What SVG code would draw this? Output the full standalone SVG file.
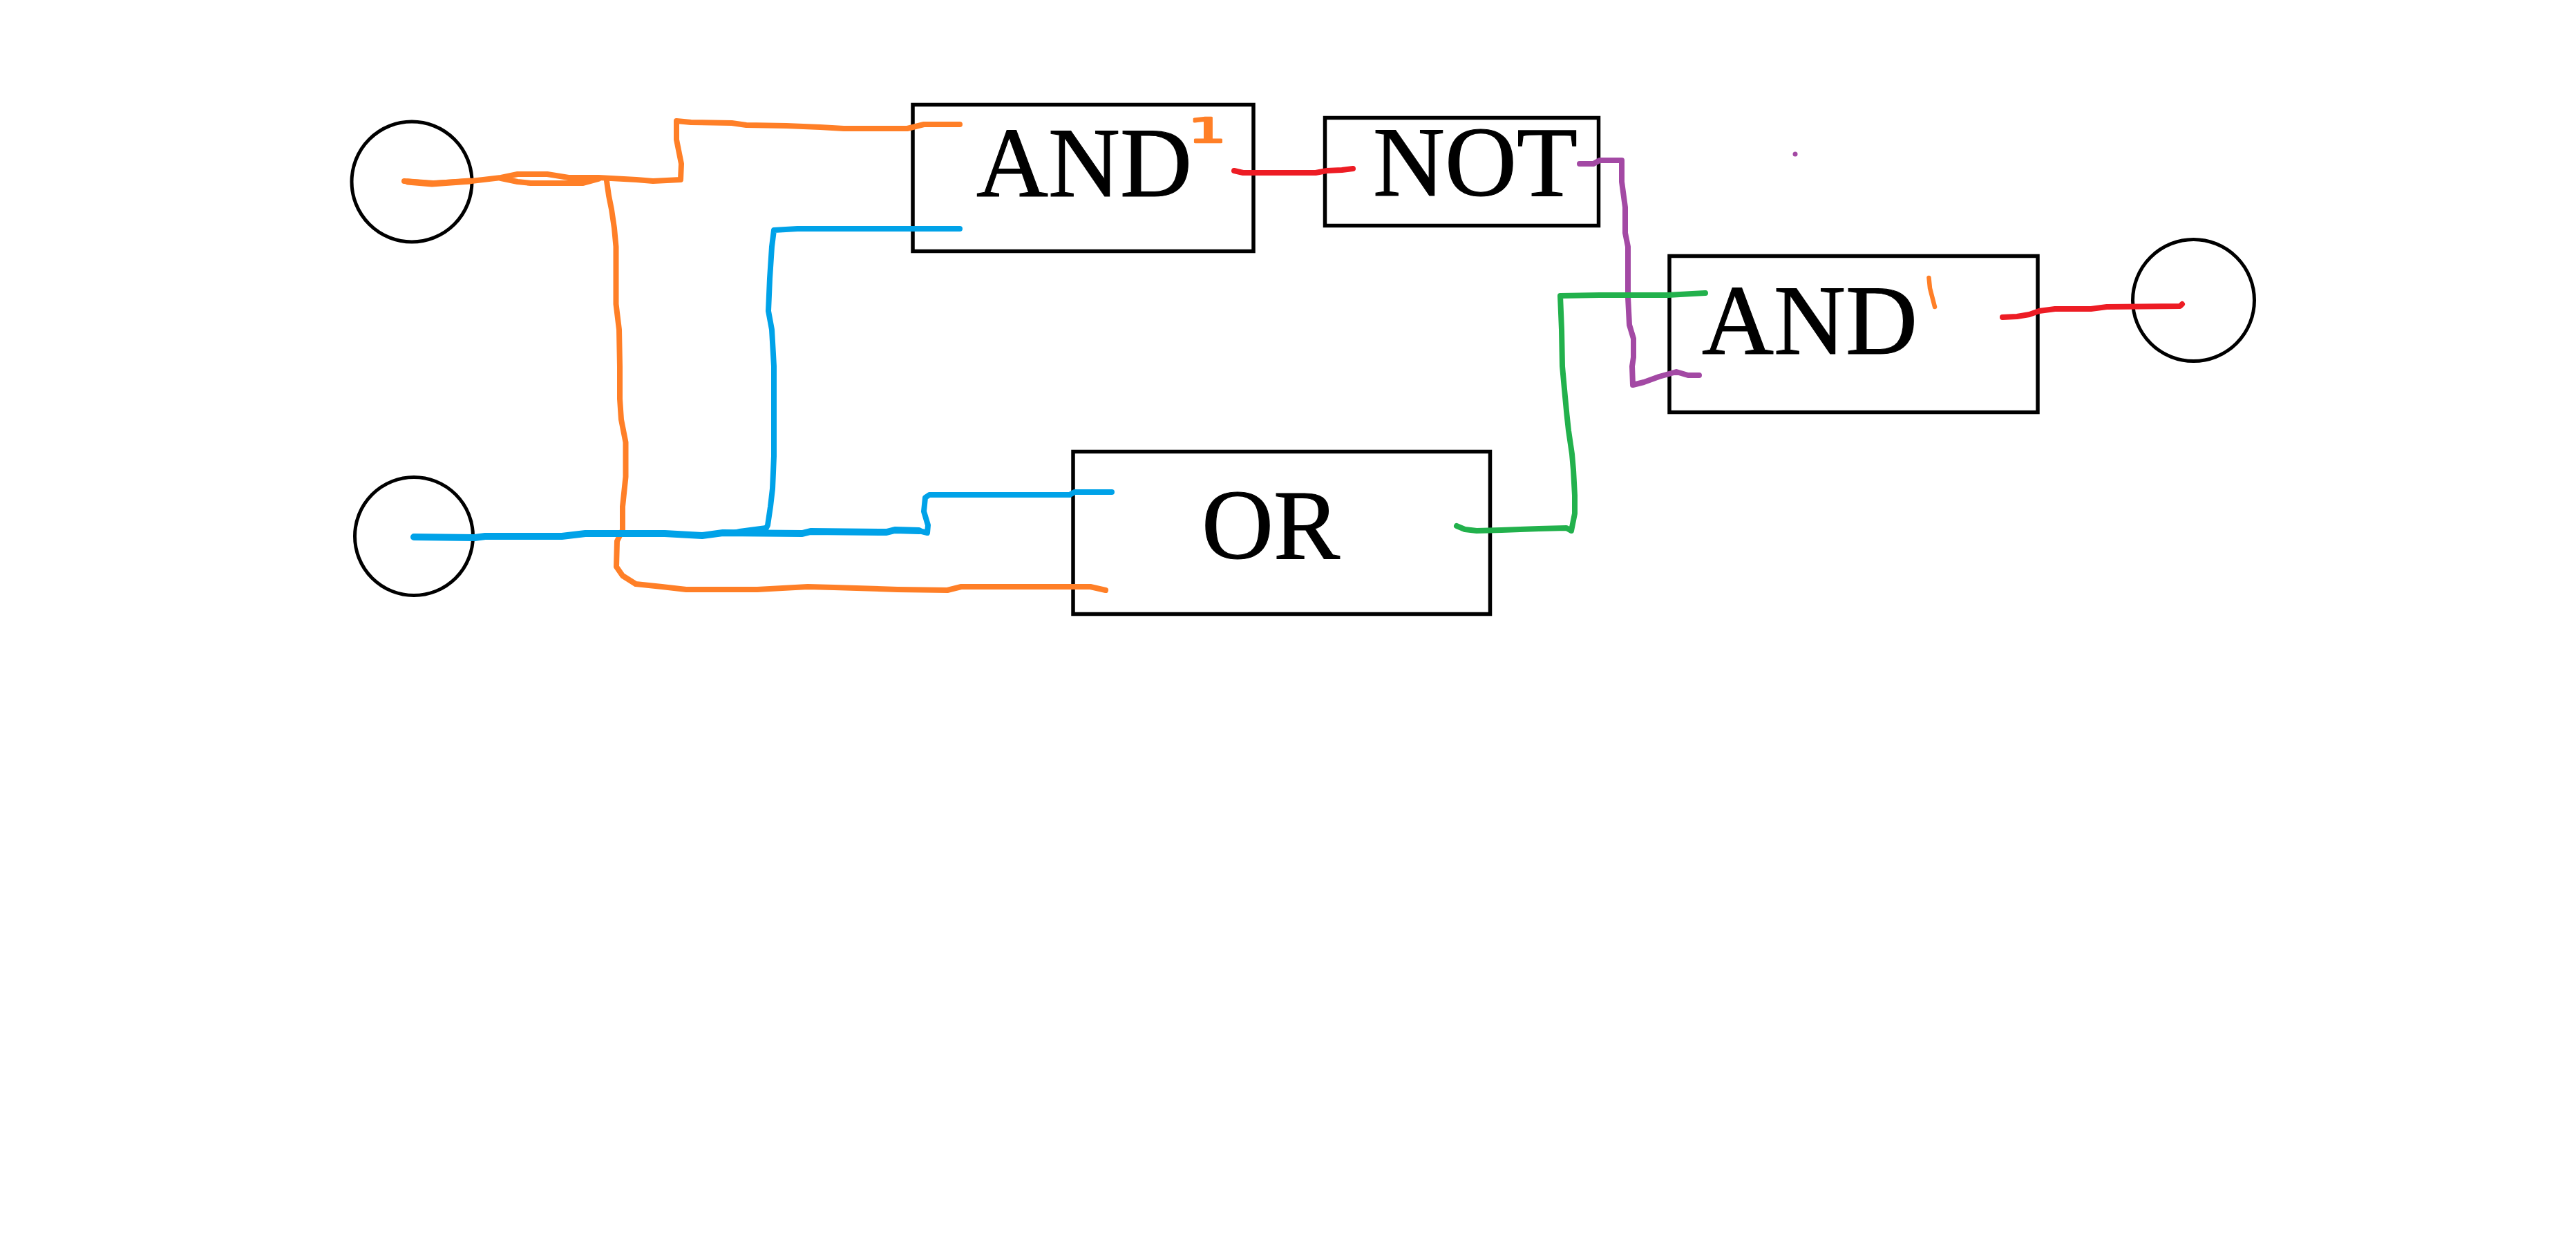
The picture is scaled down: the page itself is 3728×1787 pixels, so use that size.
<svg xmlns="http://www.w3.org/2000/svg" width="3728" height="1787" viewBox="0 0 3728 1787">
<style>
.box{fill:#fff;stroke:#000;stroke-width:5.5}
.port{fill:#fff;stroke:#000;stroke-width:5}
.lbl{font-family:"Liberation Serif","Times New Roman",serif;font-size:144px;fill:#000;stroke:#000;stroke-width:1.2}
.ink{fill:none;stroke-linecap:round;stroke-linejoin:round;stroke-width:8}
.o{stroke:#ff7f27}.b{stroke:#00a2e8}.r{stroke:#ed1c24}.p{stroke:#a349a4}.g{stroke:#22b14c}
</style>
<rect width="3728" height="1787" fill="#fff"/>
<g id="input-a"><circle class="port" cx="596" cy="263" r="87"/></g>
<g id="input-b"><circle class="port" cx="599" cy="776" r="85.5"/></g>
<g id="output"><circle class="port" cx="3174.5" cy="434.5" r="88"/></g>
<g id="and-1"><rect class="box" x="1321" y="151.5" width="493" height="212"/><text class="lbl" x="1413" y="284">AND</text></g>
<g id="not"><rect class="box" x="1917.5" y="170.5" width="396" height="156"/><text class="lbl" x="1987" y="283">NOT</text></g>
<g id="and-2"><rect class="box" x="2416" y="370.5" width="533" height="226"/><text class="lbl" x="2463" y="512">AND</text></g>
<g id="or"><rect class="box" x="1553" y="653.5" width="603.5" height="235"/><text class="lbl" x="1739" y="808">OR</text></g>
<g id="annotation-1"><text transform="translate(1747 206) scale(1.75 1)" font-family="'DejaVu Sans',sans-serif" font-size="50" fill="#ff7f27" stroke="#ff7f27" stroke-width="2.5" stroke-linejoin="round" text-anchor="middle">1</text></g>
<g id="connectors">
<polyline class="ink o" points="585,262 627,265 682,262 725,257 749,252 792,252 823,257 866,257 921,260 945,262 985,260 986,237 982,217 979,202 979,175 1000,177 1059,178 1080,181 1138,182 1187,184 1221,186 1313,186 1337,180 1389,180"/>
<polyline class="ink o" style="stroke-width:9" points="590,263 625,266 680,262"/>
<polyline class="ink o" points="725,258 749,263 768,265 844,265 866,259"/>
<polyline class="ink o" points="878,262 881,283 885,303 889,330 891.5,357 891.5,440 896,477 897,530 897,577 899,607 905.5,640 905.5,690 901,733 901,767 893,783 892,820 901,833 920,845 958,849 993,853 1096,853 1169,849 1207,850 1299,853 1371,854 1391,849 1578,849 1600,854"/>
<polyline class="ink o" style="stroke-width:6.5" points="2791.5,402 2793,417 2800,444"/>
<polyline class="ink b" points="1389,331 1154,331 1120,333 1117,357 1114,403 1112,450 1117,477 1120,530 1120,580 1120,660 1118,707 1115,733 1111,760 1107,768"/>
<polyline class="ink b" style="stroke-width:10" points="599,777 687,778 702,776 813,776 847,772 962,772 1016,775 1046,771 1161,772 1173,769 1283,770 1295,767 1330,768"/>
<polyline class="ink b" points="1295,767 1330,768 1342,771 1343,760 1337,740 1339,720 1345,716 1548,716 1555,712 1609,712"/>
<polygon fill="#00a2e8" points="1040,772 1070,765 1108,760 1108,772"/>
<polyline class="ink r" points="1786,247 1799,250 1904,250 1920,247 1942,246 1958,244"/>
<polyline class="ink r" points="2898,459 2919,458 2937,455 2951,450 2974,447 3026,447 3049,444 3155,443 3158,440"/>
<polyline class="ink p" points="2286,237 2306,237 2315,232 2347,232 2347,263 2352,300 2352,337 2356,357 2356,430 2358,470 2364,490 2364,517 2362,530 2363,557 2379,553 2401,545 2426,538 2443,543 2459,543"/>
<circle cx="2598" cy="223" r="3.5" fill="#a349a4"/>
<polyline class="ink g" points="2468,424 2449,425 2414,427 2315,427 2258,428 2260,477 2261,530 2264,563 2267.5,600 2270,623 2275,657 2277,680 2279,717 2279,743 2274,768 2267,764 2227,765 2173,767 2137,768 2120,766 2108,761"/>
</g>
</svg>
